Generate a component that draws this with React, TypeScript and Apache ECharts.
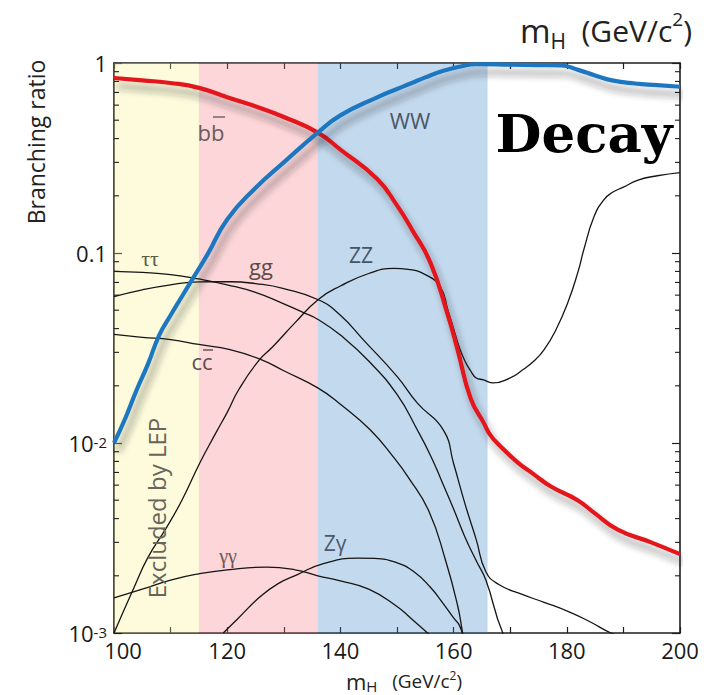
import React, { useEffect, useRef } from 'react';
import * as echarts from 'echarts';

// ---- data ----
const bbMass = [100, 105, 110, 115, 120, 125.8, 130, 136, 140, 146.5, 150, 152.7, 155.9, 158.9, 160.7, 163, 165.3, 166.5, 168, 171.3, 174, 177.2, 181.9, 184.8, 189, 194.9, 200];
const bbBR = [0.834, 0.81, 0.785, 0.74, 0.66, 0.58, 0.52, 0.43, 0.35, 0.245, 0.178, 0.132, 0.089, 0.048, 0.031, 0.0172, 0.0128, 0.011, 0.0098, 0.0079, 0.0069, 0.0059, 0.005, 0.0043, 0.0035, 0.003, 0.0026];

const wwMass = [100, 102, 104, 106, 108, 110, 112, 114, 116.5, 120, 125, 130, 136, 140, 146.5, 150, 152.4, 155, 158.2, 161, 164, 170, 175, 179, 182, 185, 188, 192, 196, 200];
const wwBR = [0.01, 0.0135, 0.019, 0.026, 0.037, 0.047, 0.059, 0.074, 0.098, 0.15, 0.22, 0.3, 0.43, 0.53, 0.66, 0.73, 0.78, 0.84, 0.91, 0.955, 0.985, 0.98, 0.975, 0.97, 0.92, 0.86, 0.81, 0.78, 0.765, 0.75];

const zzMass = [100, 103.4, 106, 109.3, 112, 115.2, 118, 120, 122, 125.5, 128, 132, 136.1, 140, 145, 149.4, 152, 155, 157.7, 159, 160, 161, 162, 163, 164, 165.3, 167, 170, 172, 174.2, 176, 178, 180.2, 182, 183, 184.8, 186.5, 188, 190, 192.6, 196, 200];
const zzBR = [0.001, 0.0017, 0.0025, 0.0036, 0.005, 0.0079, 0.0113, 0.0145, 0.019, 0.027, 0.032, 0.043, 0.057, 0.067, 0.078, 0.083, 0.082, 0.077, 0.066, 0.05, 0.04, 0.032, 0.027, 0.024, 0.022, 0.0215, 0.0207, 0.022, 0.024, 0.027, 0.031, 0.039, 0.055, 0.08, 0.104, 0.155, 0.19, 0.208, 0.222, 0.242, 0.255, 0.265];

const tautauMass = [100, 105, 110, 115, 120, 125, 130, 133.2, 136.2, 140, 145, 150, 153.6, 156, 158, 160, 162, 164, 165.7, 168.7, 171];
const tautauBR = [0.08, 0.079, 0.077, 0.073, 0.068, 0.062, 0.054, 0.049, 0.0444, 0.037, 0.027, 0.018, 0.0117, 0.0085, 0.0062, 0.0045, 0.0032, 0.0024, 0.0019, 0.001, 0.0008];

const ggMass = [100, 105, 110, 115, 120.5, 125, 130, 136.2, 140, 144.1, 150, 153.6, 158.2, 160, 162, 164, 165.7, 168, 172, 176, 180.2, 184, 187.8, 192];
const ggBR = [0.059, 0.064, 0.068, 0.0705, 0.0706, 0.069, 0.065, 0.0566, 0.047, 0.0348, 0.0224, 0.0162, 0.0117, 0.0078, 0.0048, 0.0031, 0.0021, 0.0018, 0.0016, 0.00145, 0.0013, 0.00115, 0.001, 0.0009];

const ccMass = [100, 105, 110, 115, 120.5, 126.1, 130, 136, 140, 145.3, 149.7, 152, 155.6, 158.6, 160.7, 161.6, 162.2];
const ccBR = [0.0373, 0.036, 0.035, 0.033, 0.031, 0.0274, 0.024, 0.0195, 0.016, 0.0117, 0.0082, 0.0066, 0.0044, 0.0024, 0.0014, 0.001, 0.0008];

const gamgamMass = [100, 105, 110, 115, 120, 127, 132, 136, 140, 145, 150, 152.4, 155.4, 157];
const gamgamBR = [0.00153, 0.0017, 0.0019, 0.00205, 0.00215, 0.00222, 0.00215, 0.002, 0.00188, 0.0017, 0.00138, 0.0012, 0.001, 0.0009];

const zgamMass = [119.3, 122, 125.8, 129, 132.4, 137, 143, 146, 150, 153, 155.9, 158, 160, 161, 161.7];
const zgamBR = [0.001, 0.0012, 0.00155, 0.00182, 0.00203, 0.00232, 0.00248, 0.00247, 0.00234, 0.0021, 0.00174, 0.00145, 0.0012, 0.0011, 0.00095];

// shaded mass bands [from, to]
const bandLEP = [100, 115];
const bandPink = [115, 136];
const bandBlue = [136, 166];

// axis ticks / labels
const xTickLabels = ['100', '120', '140', '160', '180', '200'];
const yTickExponents = [-3, -2, -1, 0];
const yTickLabels = ['10{s|-3}', '10{s|-2}', '0.1', '1'];
const yMinorTicks = [0.002, 0.003, 0.004, 0.005, 0.006, 0.007, 0.008, 0.009, 0.02, 0.03, 0.04, 0.05, 0.06, 0.07, 0.08, 0.09, 0.2, 0.3, 0.4, 0.5, 0.6, 0.7, 0.8, 0.9];

const zip = (xs: number[], ys: number[]) => xs.map((x, i) => [x, ys[i]]);

const AXIS = '#1e1e1e';
const SANS = '"Open Sans", "Noto Sans", sans-serif';

const thin = (name: string, xs: number[], ys: number[]) => ({
  name,
  type: 'line',
  data: zip(xs, ys),
  showSymbol: false,
  symbol: 'none',
  smooth: 0.5,
  lineStyle: { color: '#151515', width: 1.3 },
  z: 2,
  silent: true,
});

const thick = (name: string, xs: number[], ys: number[], color: string) => ({
  name,
  type: 'line',
  data: zip(xs, ys),
  showSymbol: false,
  symbol: 'none',
  smooth: 0.5,
  lineStyle: {
    color,
    width: 4.2,
    shadowColor: 'rgba(40,40,40,0.45)',
    shadowBlur: 7,
    shadowOffsetX: 4,
    shadowOffsetY: 8,
  },
  z: 3,
  silent: true,
});

const label = (text: string, x: number, y: number, fill: string, size = 21, family = SANS) => ({
  type: 'text',
  x,
  y,
  z: 100,
  style: { text, fill, font: `${size}px ${family}`, align: 'center', verticalAlign: 'middle' },
});

const overline = (x1: number, x2: number, y: number, stroke: string) => ({
  type: 'line',
  z: 100,
  shape: { x1, y1: y, x2, y2: y },
  style: { stroke, lineWidth: 1.4 },
});

export default function App() {
  const ref = useRef<HTMLDivElement>(null);
  useEffect(() => {
    const chart = echarts.init(ref.current!, undefined, { renderer: 'svg' });
    const option: any = {
      animation: false,
      backgroundColor: '#ffffff',
      grid: { left: 114, right: 24, top: 63, bottom: 62, containLabel: false },
      xAxis: [
        {
          type: 'value', min: 100, max: 200, interval: 10, position: 'bottom',
          axisLine: { show: true, onZero: false, lineStyle: { color: AXIS, width: 1.6 } },
          axisTick: { show: true, inside: true, length: 6, lineStyle: { color: AXIS, width: 1.2 } },
          axisLabel: {
            formatter: (v: number) => {
              const s = String(Math.round(v));
              if (!xTickLabels.includes(s)) return '';
              return s === xTickLabels[0] ? `{first|${s}}` : s;
            },
            fontSize: 22, color: '#1a1a1a', fontFamily: SANS, margin: 8, lineHeight: 18,
            rich: { first: { fontSize: 22, fontFamily: SANS, color: '#1a1a1a', lineHeight: 18, padding: [0, 0, 0, 18] } },
          },
          splitLine: { show: false },
        },
        {
          type: 'value', min: 100, max: 200, interval: 10, position: 'top',
          axisLine: { show: true, onZero: false, lineStyle: { color: AXIS, width: 1.6 } },
          axisTick: { show: true, inside: true, length: 6, lineStyle: { color: AXIS, width: 1.2 } },
          axisLabel: { show: false },
          splitLine: { show: false },
        },
      ],
      yAxis: [
        {
          type: 'log', logBase: 10, min: 0.001, max: 1, splitNumber: 3, position: 'left',
          axisLine: { show: true, onZero: false, lineStyle: { color: AXIS, width: 1.6 } },
          axisTick: { show: true, inside: true, length: 8, lineStyle: { color: AXIS, width: 1.2 } },
          axisLabel: {
            formatter: (v: number) => {
              const e = Math.round(Math.log10(v));
              const i = yTickExponents.indexOf(e);
              return i >= 0 ? yTickLabels[i] : '';
            },
            fontSize: 22, color: '#1a1a1a', fontFamily: SANS, margin: 7, lineHeight: 18,
            rich: { s: { fontSize: 15, fontFamily: SANS, color: '#1a1a1a', verticalAlign: 'top', lineHeight: 12 } },
          },
          splitLine: { show: false },
        },
        {
          type: 'log', logBase: 10, min: 0.001, max: 1, splitNumber: 3, position: 'right',
          axisLine: { show: true, onZero: false, lineStyle: { color: AXIS, width: 1.6 } },
          axisTick: { show: true, inside: true, length: 8, lineStyle: { color: AXIS, width: 1.2 } },
          axisLabel: { show: false },
          splitLine: { show: false },
        },
      ],
      series: [
        thin('ττ', tautauMass, tautauBR),
        thin('gg', ggMass, ggBR),
        thin('cc', ccMass, ccBR),
        thin('γγ', gamgamMass, gamgamBR),
        thin('Zγ', zgamMass, zgamBR),
        thin('ZZ', zzMass, zzBR),
        thick('bb', bbMass, bbBR, '#e3161d'),
        thick('WW', wwMass, wwBR, '#1d77c0'),
        {
          name: 'minorTicks',
          type: 'custom',
          data: yMinorTicks.map((v) => [100, v]),
          encode: { x: 0, y: 1 },
          clip: false,
          silent: true,
          z: 4,
          renderItem: (params: any, api: any) => {
            const cs = params.coordSys;
            const y = api.coord([100, api.value(1)])[1];
            const st = { stroke: AXIS, lineWidth: 1.1 };
            return {
              type: 'group',
              children: [
                { type: 'line', shape: { x1: cs.x, y1: y, x2: cs.x + 5, y2: y }, style: st },
                { type: 'line', shape: { x1: cs.x + cs.width, y1: y, x2: cs.x + cs.width - 5, y2: y }, style: st },
              ],
            };
          },
        },
        {
          name: 'bands',
          type: 'line',
          data: [[100, 0.001]],
          symbol: 'none',
          lineStyle: { opacity: 0 },
          silent: true,
          z: 6,
          markArea: {
            silent: true,
            data: [
              [{ xAxis: bandLEP[0], itemStyle: { color: 'rgba(248,242,138,0.3)' } }, { xAxis: bandLEP[1] }],
              [{ xAxis: bandPink[0], itemStyle: { color: 'rgba(248,118,128,0.3)' } }, { xAxis: bandPink[1] }],
              [{ xAxis: bandBlue[0], itemStyle: { color: 'rgba(55,128,198,0.3)' } }, { xAxis: bandBlue[1] }],
            ],
          },
        },
      ],
      graphic: [
        {
          type: 'text', x: 36, y: 142, rotation: Math.PI / 2, z: 100,
          style: { text: 'Branching ratio', font: `23px ${SANS}`, fill: '#222', align: 'center', verticalAlign: 'middle' },
        },
        {
          type: 'text', x: 692, y: 30, z: 100,
          style: {
            text: '{m|m}{h|H}{g|  (GeV/c}{s|2}{g|)}', fill: '#222', align: 'right', verticalAlign: 'middle',
            rich: {
              m: { fontSize: 33, fontFamily: SANS, lineHeight: 42, fill: '#222' },
              h: { fontSize: 21, fontFamily: SANS, lineHeight: 21, verticalAlign: 'bottom', fill: '#222' },
              g: { fontSize: 30, fontFamily: SANS, lineHeight: 42, fill: '#222' },
              s: { fontSize: 19, fontFamily: SANS, lineHeight: 19, verticalAlign: 'top', fill: '#222' },
            },
          },
        },
        {
          type: 'text', x: 404, y: 681, z: 100,
          style: {
            text: '{m|m}{h|H}{g|   (GeV/c}{s|2}{g|)}', fill: '#222', align: 'center', verticalAlign: 'middle',
            rich: {
              m: { fontSize: 22, fontFamily: SANS, lineHeight: 24, fill: '#222' },
              h: { fontSize: 15, fontFamily: SANS, lineHeight: 15, verticalAlign: 'bottom', fill: '#222' },
              g: { fontSize: 19, fontFamily: SANS, lineHeight: 24, fill: '#222' },
              s: { fontSize: 12, fontFamily: SANS, lineHeight: 12, verticalAlign: 'top', fill: '#222' },
            },
          },
        },
        {
          type: 'text', x: 584, y: 133, z: 100,
          style: { text: 'Decay', font: 'bold 53px "DejaVu Serif", serif', fill: '#000', align: 'center', verticalAlign: 'middle' },
        },
        {
          type: 'text', x: 156, y: 508, rotation: Math.PI / 2, z: 100,
          style: { text: 'Excluded by LEP', font: `24px ${SANS}`, fill: '#67655a', align: 'center', verticalAlign: 'middle' },
        },
        label('bb', 211, 132, '#6b5c5c', 22),
        overline(213, 225, 117, '#6b5c5c'),
        label('WW', 410, 120, '#4b5868', 22),
        label('ττ', 150, 258, '#5e5a48', 22, '"Liberation Serif", serif'),
        label('gg', 261, 266, '#5b4a4a', 22),
        label('ZZ', 361, 255, '#465566', 21),
        label('cc', 202, 361, '#5b4e4e', 22),
        overline(203, 213, 350, '#5b4e4e'),
        label('γγ', 228, 556, '#6a5555', 20, '"Liberation Serif", serif'),
        label('Zγ', 335, 543, '#4a5a6a', 21),
      ],
    };
    chart.setOption(option);
    return () => chart.dispose();
  }, []);
  return (
    <div
      ref={ref}
      style={{ position: 'fixed', left: 0, top: 0, width: 704, height: 695, background: '#fff' }}
    />
  );
}
